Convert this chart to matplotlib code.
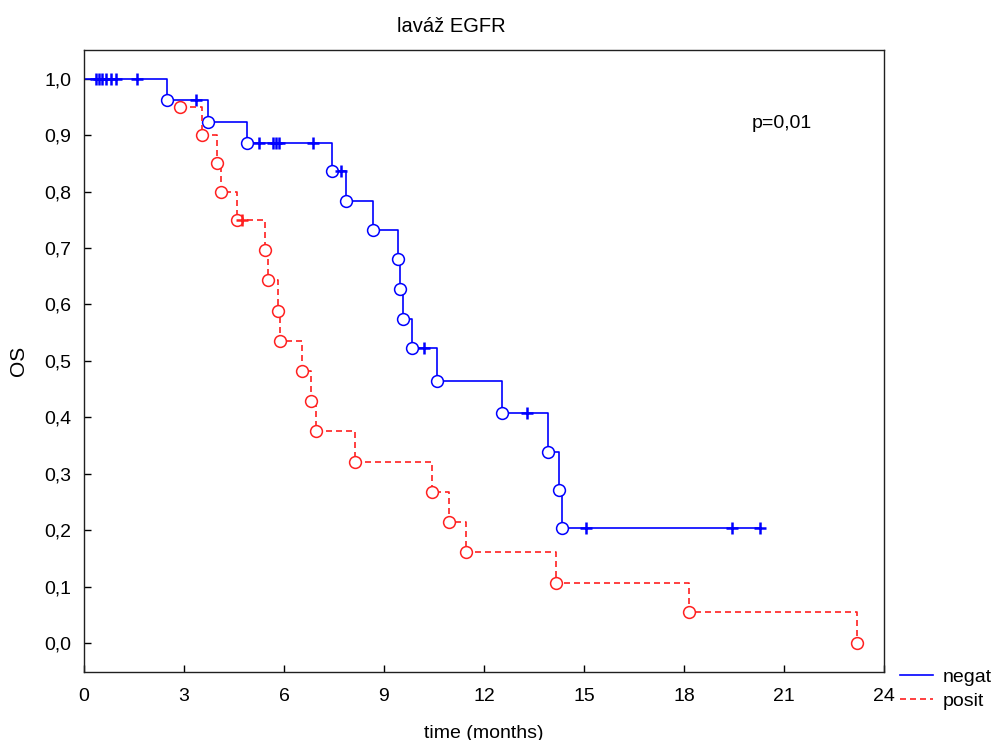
import numpy as np
import matplotlib
matplotlib.use('Agg')
import matplotlib.pyplot as plt

plt.rcParams['font.family'] = ['Liberation Sans', 'DejaVu Sans']
plt.rcParams['font.size'] = 14

# negat: times of death and survival level after each one
neg_t = [2.5, 3.73, 4.9, 7.45, 7.85, 8.66, 9.43, 9.47, 9.58, 9.83,
         10.58, 12.55, 13.93, 14.26, 14.33]
neg_s = [0.963, 0.924, 0.886, 0.837, 0.784, 0.732, 0.680, 0.627, 0.575,
         0.523, 0.465, 0.407, 0.339, 0.271, 0.203]
neg_cens = [0.35, 0.45, 0.55, 0.65, 0.8, 0.97, 1.6, 3.36, 5.26, 5.67,
            5.76, 5.85, 6.88, 7.71, 10.21, 13.28, 15.05, 19.45, 20.28]

# posit
pos_t = [2.88, 3.55, 3.98, 4.1, 4.58, 5.43, 5.51, 5.82, 5.88, 6.54, 6.81,
         6.96, 8.13, 10.45, 10.96, 11.46, 14.17, 18.16, 23.2]
pos_s = [0.95, 0.90, 0.85, 0.80, 0.75, 0.696, 0.643, 0.589, 0.536, 0.482,
         0.429, 0.375, 0.321, 0.268, 0.214, 0.161, 0.107, 0.054, 0.0]
pos_cens = [4.73]

xticks = [0, 3, 6, 9, 12, 15, 18, 21, 24]
yticks = np.round(np.arange(0, 1.01, 0.1), 1)


def level_at(t, ev_t, ev_s, start):
    # survival level just after time t
    i = np.searchsorted(ev_t, t, side='right')
    return start if i == 0 else ev_s[i - 1]


fig = plt.figure(figsize=(10, 7.4), dpi=100)
ax = fig.add_axes([0.084, 0.0923, 0.8, 0.8401])

blue = '#0000ff'
red = '#ff2020'

# negat curve from (0, 1)
xs = [0] + neg_t + [neg_cens[-1]]
ys = [1.0] + neg_s + [neg_s[-1]]
ln_neg, = ax.step(xs, ys, where='post', color=blue, lw=1.2)
ax.plot(neg_t, neg_s, 'o', ms=8.5, mfc='white', mec=blue, mew=1.1, ls='none')
cy = [level_at(t, neg_t, neg_s, 1.0) for t in neg_cens]
ax.plot(neg_cens, cy, '+', ms=9, mec=blue, mew=1.8, ls='none')

# posit curve
ln_pos, = ax.step(pos_t, pos_s, where='post', color=red, lw=1.2,
                  dashes=(3.6, 2.4))
ax.plot(pos_t, pos_s, 'o', ms=8.5, mfc='white', mec=red, mew=1.1, ls='none')
cy = [level_at(t, pos_t, pos_s, 1.0) for t in pos_cens]
ax.plot(pos_cens, cy, '+', ms=9, mec=red, mew=1.8, ls='none')

ax.set_xlim(0, 24)
ax.set_ylim(-0.051, 1.051)
ax.set_xticks(xticks)
ax.set_yticks(yticks)
ax.set_yticklabels([f'{v:.1f}'.replace('.', ',') for v in yticks])
ax.tick_params(direction='in', length=5, width=1, top=False, right=False)
ax.tick_params(axis='x', pad=12)
ax.tick_params(axis='y', pad=9)
for s in ax.spines.values():
    s.set_linewidth(1.0)
    s.set_color('#202020')

ax.set_xlabel('time (months)', labelpad=14)
ax.set_ylabel('OS', labelpad=12, fontsize=15)
fig.text(0.451, 1 - 27 / 740, 'laváž EGFR', ha='center', va='center',
         fontsize=14.5)
ax.text(0.835, 0.875, 'p=0,01', transform=ax.transAxes)

fig.legend([ln_neg, ln_pos], ['negat', 'posit'], loc='center left',
           bbox_to_anchor=(0.9, 1 - 689 / 740), frameon=False,
           borderpad=0, borderaxespad=0, handlelength=1.7,
           handletextpad=0.5, labelspacing=0.35)

fig.savefig('out.png', dpi=100)
